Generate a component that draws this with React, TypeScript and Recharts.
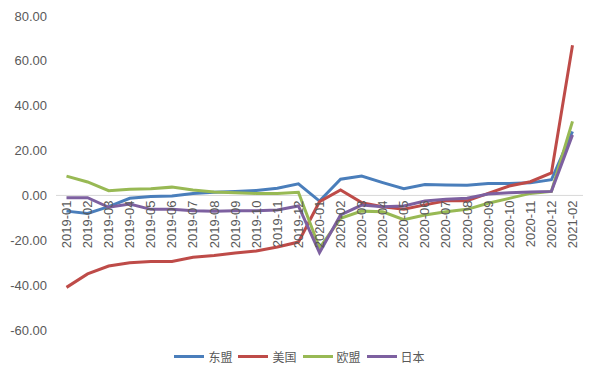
import React from 'react';
import { LineChart, Line, XAxis, YAxis, ReferenceLine, Legend } from 'recharts';

const months = [
  '2019-01', '2019-02', '2019-03', '2019-04', '2019-05', '2019-06', '2019-07', '2019-08', '2019-09', '2019-10', '2019-11', '2019-12',
  '2020-01', '2020-02', '2020-03', '2020-04', '2020-05', '2020-06', '2020-07', '2020-08', '2020-09', '2020-10', '2020-11', '2020-12',
  '2021-02',
];
const asean = [-7, -8, -5, -1.3, -0.5, -0.3, 0.9, 1.4, 1.8, 2.2, 3.2, 5.2, -2.5, 7.2, 8.6, 5.7, 3.0, 4.9, 4.7, 4.5, 5.3, 5.3, 5.6, 7.0, 28.5];
const usa = [-41, -35, -31.5, -30, -29.5, -29.5, -27.6, -26.8, -25.7, -24.8, -23, -20.8, -2.8, 2.4, -3.2, -5, -6.2, -4.2, -2.4, -2.4, 0.9, 4.2, 6.1, 10, 67];
const eu = [8.6, 6, 2.1, 2.7, 3, 3.7, 2.4, 1.5, 1.2, 0.9, 0.9, 1.4, -23.5, -10.2, -7, -7.3, -10.8, -8.7, -7.3, -6.2, -3.5, -1.3, 0.9, 1.8, 33];
const japan = [-1, -1, -5.3, -3.8, -6.2, -6.2, -6.8, -7, -6.8, -6.8, -6.5, -4.7, -25.5, -8.7, -4.3, -5, -4.7, -2.5, -1.7, -1.3, 0.6, 1.2, 1.5, 1.8, 27];
const seriesNames = ['东盟', '美国', '欧盟', '日本'];
const yTicks = [-60, -40, -20, 0, 20, 40, 60, 80];

const colors = ['#4a7ebb', '#be4b48', '#98b954', '#7d60a0'];
const keys = ['asean', 'usa', 'eu', 'japan'];

const data = months.map((m, i) => ({
  month: m,
  asean: asean[i],
  usa: usa[i],
  eu: eu[i],
  japan: japan[i],
}));

const W = 583;
const H = 363;
const MARGIN = { top: 8, right: 8, left: 0, bottom: 3 };
const LEGEND_H = 24;
const XAXIS_H = 14;
const Y_MIN = -60;
const Y_MAX = 80;
const PLOT_H = H - MARGIN.top - MARGIN.bottom - LEGEND_H - XAXIS_H;
// distance from plot bottom up to zero line
const ZERO_OFFSET = (PLOT_H * (0 - Y_MIN)) / (Y_MAX - Y_MIN);

const XTick = (props: any) => {
  const { x, y, payload } = props;
  const ty = y - ZERO_OFFSET + 5;
  return (
    <text
      x={x}
      y={ty}
      transform={`rotate(-90, ${x}, ${ty})`}
      textAnchor="end"
      dominantBaseline="central"
      fill="#595959"
      fontSize={13}
      fontFamily="'Liberation Sans', Arial, sans-serif"
    >
      {payload.value}
    </text>
  );
};

const LegendContent = () => (
  <div style={{ display: 'flex', justifyContent: 'center', alignItems: 'center', height: LEGEND_H, paddingLeft: 8 }}>
    {seriesNames.map((n, i) => (
      <div key={n} style={{ display: 'flex', alignItems: 'center', marginRight: i < seriesNames.length - 1 ? 6 : 0 }}>
        <span style={{ display: 'inline-block', width: 30, height: 3, background: colors[i], marginRight: 4 }} />
        <span style={{ fontSize: 12, color: '#595959', fontFamily: "'Noto Sans CJK SC', sans-serif" }}>{n}</span>
      </div>
    ))}
  </div>
);

export default function App() {
  return (
    <LineChart width={W} height={H} data={data} margin={MARGIN}>
      <XAxis
        dataKey="month"
        interval={0}
        axisLine={false}
        tickLine={false}
        tickSize={0}
        tickMargin={0}
        height={XAXIS_H}
        padding={{ left: 10.5, right: 10.5 }}
        tick={<XTick />}
      />
      <YAxis
        domain={[Y_MIN, Y_MAX]}
        ticks={yTicks}
        width={48}
        axisLine={false}
        tickLine={false}
        tickSize={0}
        tickMargin={9}
        interval={0}
        tickFormatter={(v: number) => v.toFixed(2)}
        tick={{ fill: '#595959', fontSize: 13, fontFamily: "'Liberation Sans', Arial, sans-serif" }}
      />
      <ReferenceLine y={0} stroke="#d9d9d9" strokeWidth={1} />
      <Legend verticalAlign="bottom" height={LEGEND_H} content={<LegendContent />} />
      {keys.map((k, i) => (
        <Line
          key={k}
          dataKey={k}
          name={seriesNames[i]}
          stroke={colors[i]}
          strokeWidth={3}
          dot={false}
          activeDot={false}
          isAnimationActive={false}
          type="linear"
        />
      ))}
    </LineChart>
  );
}
